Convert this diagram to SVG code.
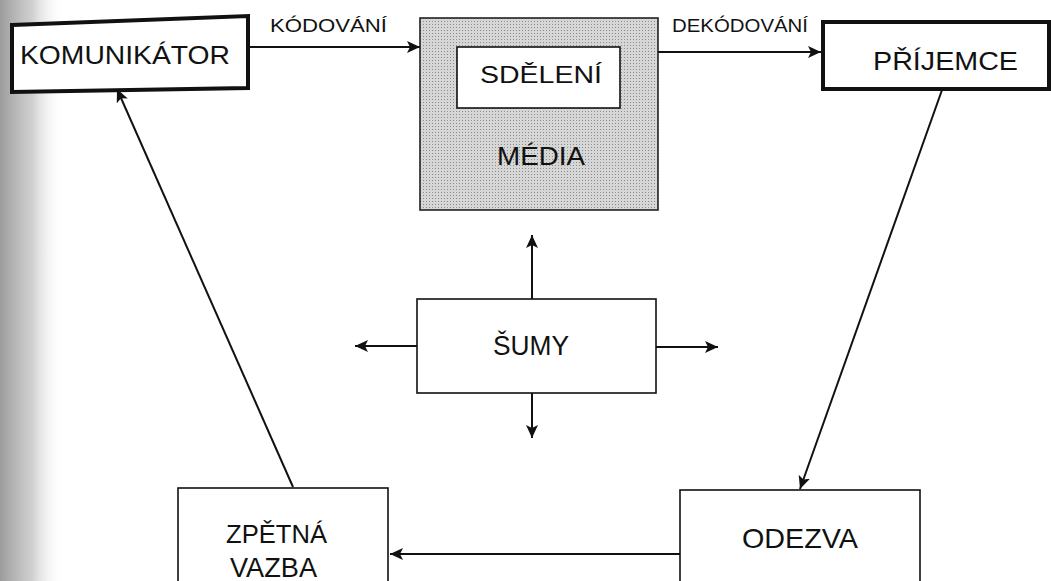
<svg xmlns="http://www.w3.org/2000/svg" width="1051" height="581" viewBox="0 0 1051 581">
<style>
.lbl{font-family:"Liberation Sans",Arial,sans-serif;fill:#111;}
.box{fill:#fff;stroke:#111;stroke-width:1.6;}
.thick{fill:#fff;stroke:#111;stroke-width:4;stroke-linejoin:miter;}
.con{stroke:#111;stroke-width:2;fill:none;marker-end:url(#ah);}
</style>
<defs>
<marker id="ah" markerUnits="userSpaceOnUse" markerWidth="14" markerHeight="12" refX="13" refY="6" orient="auto">
<path d="M0,0 L13,6 L0,12 L3,6 Z" fill="#111"/>
</marker>
<linearGradient id="scan" x1="0" y1="0" x2="1" y2="0">
<stop offset="0" stop-color="#8a8a8a" stop-opacity="0.85"/>
<stop offset="0.5" stop-color="#b0b0b0" stop-opacity="0.6"/>
<stop offset="1" stop-color="#ffffff" stop-opacity="0"/>
</linearGradient>
<pattern id="dots" width="3" height="3" patternUnits="userSpaceOnUse">
<rect width="3" height="3" fill="#d6d6d6"/>
<rect width="1" height="1" fill="#8c8c8c"/>
</pattern>
</defs>
<rect width="1051" height="581" fill="#fff"/>
<rect x="0" y="0" width="64" height="581" fill="url(#scan)"/>

<g id="connectors">
<line class="con" x1="249" y1="47" x2="420" y2="47"/>
<line class="con" x1="658" y1="52" x2="821" y2="52"/>
<line class="con" x1="942" y1="90" x2="800" y2="489"/>
<line class="con" x1="680" y1="554" x2="390" y2="554"/>
<line class="con" x1="293" y1="487" x2="117" y2="89"/>
<line class="con" x1="532" y1="299" x2="532" y2="235"/>
<line class="con" x1="532" y1="393" x2="532" y2="438"/>
<line class="con" x1="417" y1="346" x2="355" y2="346"/>
<line class="con" x1="656" y1="347" x2="718" y2="347"/>
</g>

<g id="label-kodovani">
<text class="lbl" x="270" y="32" font-size="18" textLength="117" lengthAdjust="spacingAndGlyphs">KÓDOVÁNÍ</text>
</g>
<g id="label-dekodovani">
<text class="lbl" x="672" y="32" font-size="18" textLength="136" lengthAdjust="spacingAndGlyphs">DEKÓDOVÁNÍ</text>
</g>

<g id="komunikator">
<polygon class="thick" points="12,25 248,16 248,88 12,92"/>
<text class="lbl" x="20" y="64" font-size="26" textLength="210" lengthAdjust="spacingAndGlyphs">KOMUNIKÁTOR</text>
</g>

<g id="media">
<rect x="420" y="18" width="238" height="192" fill="url(#dots)" stroke="#222" stroke-width="1.6"/>
<text class="lbl" x="497" y="165" font-size="25" textLength="88" lengthAdjust="spacingAndGlyphs">MÉDIA</text>
</g>
<g id="sdeleni">
<rect class="box" x="457" y="47" width="163" height="61" stroke-width="2"/>
<text class="lbl" x="480" y="83" font-size="23" textLength="122" lengthAdjust="spacingAndGlyphs">SDĚLENÍ</text>
</g>

<g id="prijemce">
<rect class="thick" x="823" y="22" width="226" height="67"/>
<text class="lbl" x="873" y="70" font-size="26" textLength="145" lengthAdjust="spacingAndGlyphs">PŘÍJEMCE</text>
</g>

<g id="sumy">
<rect class="box" x="417" y="299" width="239" height="94"/>
<text class="lbl" x="493" y="355" font-size="27" textLength="76" lengthAdjust="spacingAndGlyphs">ŠUMY</text>
</g>

<g id="odezva">
<rect class="box" x="680" y="490" width="240" height="100"/>
<text class="lbl" x="742" y="548" font-size="28" textLength="116" lengthAdjust="spacingAndGlyphs">ODEZVA</text>
</g>

<g id="zpetna-vazba">
<rect class="box" x="178" y="488" width="210" height="102"/>
<text class="lbl" x="226" y="543" font-size="26" textLength="101" lengthAdjust="spacingAndGlyphs">ZPĚTNÁ</text>
<text class="lbl" x="230" y="577" font-size="27" textLength="87" lengthAdjust="spacingAndGlyphs">VAZBA</text>
</g>
</svg>
